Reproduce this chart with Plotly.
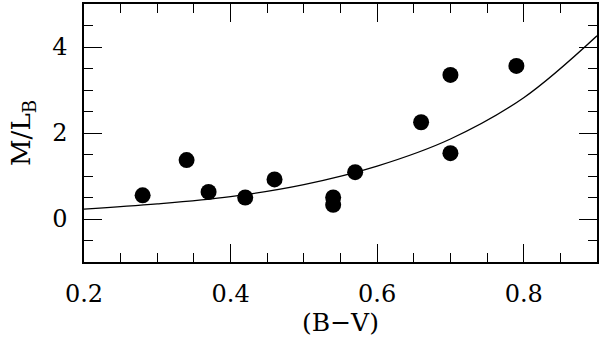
import plotly.graph_objects as go

# data points
bv = [0.28, 0.34, 0.37, 0.42, 0.46, 0.54, 0.54, 0.57, 0.66, 0.70, 0.70, 0.79]
ml = [0.55, 1.37, 0.63, 0.50, 0.92, 0.50, 0.33, 1.09, 2.25, 3.35, 1.53, 3.56]

# fitted curve, values
curve_bv = [0.20, 0.30, 0.40, 0.50, 0.60, 0.70, 0.80, 0.90]
curve_ml = [0.23, 0.35, 0.52, 0.80, 1.23, 1.86, 2.82, 4.26]

xticks = [0.2, 0.4, 0.6, 0.8]
yticks = [0, 2, 4]

font = "DejaVu Serif"

fig = go.Figure()
fig.add_trace(go.Scatter(x=curve_bv, y=curve_ml, mode="lines",
                         line=dict(color="black", width=1.3, shape="spline"),
                         showlegend=False, hoverinfo="skip"))
fig.add_trace(go.Scatter(x=bv, y=ml, mode="markers",
                         marker=dict(color="black", size=16),
                         showlegend=False))

axis_common = dict(showline=True, linecolor="black", linewidth=1.5, mirror="ticks",
                   ticks="inside", tickcolor="black", tickwidth=1.3, ticklen=18,
                   showgrid=False, zeroline=False, automargin=False,
                   tickfont=dict(family=font, size=24, color="black"))

fig.update_xaxes(range=[0.2, 0.9], tickvals=xticks, ticktext=["0.2", "0.4", "0.6", "0.8"],
                 minor=dict(dtick=0.05, tick0=0.2, ticks="inside", ticklen=9,
                            tickcolor="black", tickwidth=1.3),
                 ticklabelstandoff=9,
                 title=dict(text="(B−V)", font=dict(family=font, size=25, color="black"),
                            standoff=6),
                 **axis_common)
fig.update_yaxes(range=[-1, 5], tickvals=yticks, ticktext=["0", "2", "4"],
                 minor=dict(dtick=0.5, tick0=0, ticks="inside", ticklen=9,
                            tickcolor="black", tickwidth=1.3),
                 ticklabelstandoff=10,
                 title=dict(text="M/L<sub>B</sub>", font=dict(family=font, size=26, color="black"),
                            standoff=14),
                 **axis_common)

fig.update_layout(width=600, height=343, margin=dict(l=84, r=3, t=4, b=81),
                  plot_bgcolor="white", paper_bgcolor="white")

fig.write_html("out.html", config={"displayModeBar": False},
               post_script="document.body.style.margin='0';document.body.style.overflow='hidden';")
